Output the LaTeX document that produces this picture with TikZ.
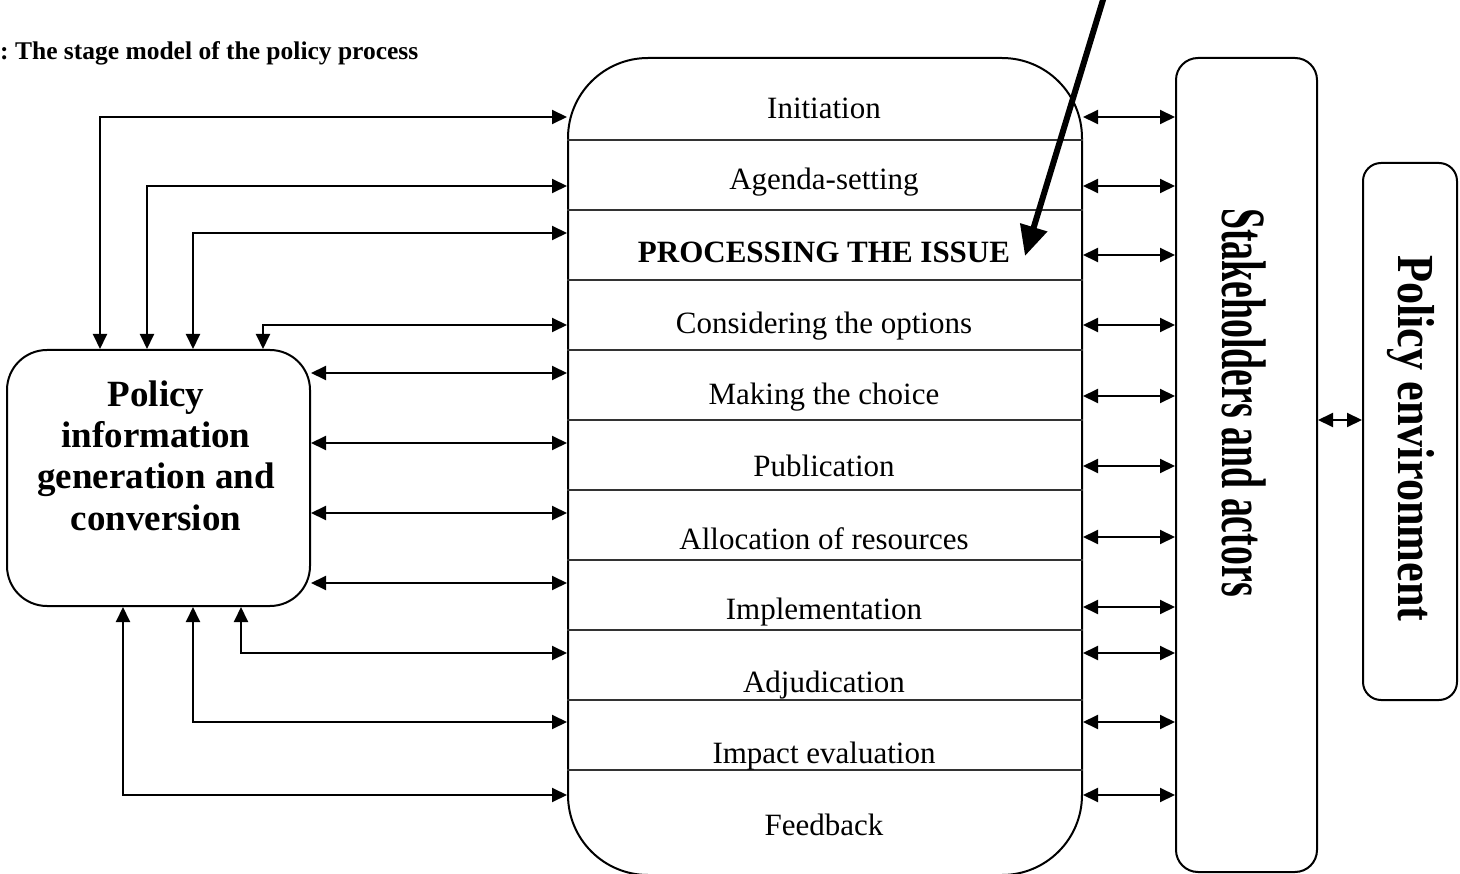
\documentclass[tikz,border=0pt]{standalone}
\usepackage{fontspec}
\usepackage{graphicx}
\setmainfont{Liberation Serif}
\usetikzlibrary{arrows.meta}
\frenchspacing
\begin{document}
\begin{tikzpicture}[x=1pt,y=-1pt,
  >={Triangle[length=15pt,width=14pt]},
  box/.style={draw, line width=2pt, inner sep=0pt},
  link/.style={line width=2pt, <->},
  divider/.style={line width=1.6pt, black!80},
  stage/.style={font=\fontsize{31}{37}\selectfont, anchor=base, inner sep=0pt},
  pointer/.style={line width=6pt, -{Triangle[length=30pt,width=27pt]}},
  sidelabel/.style={rotate=-90, anchor=base west, inner sep=0pt}
]
\useasboundingbox (0,0) rectangle (1460,874);

% caption
\node[anchor=base west, inner sep=0pt, font=\fontsize{25.5}{30}\selectfont\bfseries] (title) at (0,60) {: The stage model of the policy process};

% central column of stages
\node[box, rounded corners=80pt, minimum width=514pt, minimum height=817pt] (proc) at (825,466.5) {};
\foreach \y in {140,210,280,350,420,490,560,630,700,770}
  \draw[divider] (proc.west |- 0,\y) -- (proc.east |- 0,\y);

\node[stage] (s1) at (824,119) {Initiation};
\node[stage] (s2) at (824,190) {Agenda-setting};
\node[stage, font=\fontsize{31}{37}\selectfont\bfseries] (s3) at (824,263) {PROCESSING THE ISSUE};
\node[stage] (s4) at (824,334) {Considering the options};
\node[stage] (s5) at (824,405) {Making the choice};
\node[stage] (s6) at (824,477) {Publication};
\node[stage] (s7) at (824,549) {Allocation of resources};
\node[stage] (s8) at (824,619) {Implementation};
\node[stage] (s9) at (824,692) {Adjudication};
\node[stage] (s10) at (824,763) {Impact evaluation};
\node[stage] (s11) at (824,835) {Feedback};

% information box
\node[box, rounded corners=40pt, minimum width=303pt, minimum height=256pt] (info) at (158.5,478) {};
\node[align=center, inner sep=0pt, anchor=base, font=\fontsize{37}{41.3}\selectfont\bfseries] (infotext) at (156,530)
  {Policy\\information\\generation and\\conversion};

% stakeholders and environment
\node[box, rounded corners=22pt, minimum width=141pt, minimum height=814pt] (stake) at (1246.5,465) {};
\node[sidelabel, font=\fontsize{63}{70}\selectfont\bfseries] (staketext) at (1222,208)
  {\scalebox{0.6}[1]{Stakeholders and actors}};
\node[box, rounded corners=18pt, minimum width=94pt, minimum height=537pt] (env) at (1410,431.5) {};
\node[sidelabel, font=\fontsize{52}{60}\selectfont\bfseries] (envtext) at (1398,255)
  {\scalebox{0.85}[1]{Policy environment}};

% links between the information box and the stages
\draw[link] (info.north -| 100,0) |- (proc.west |- 0,117);
\draw[link] (info.north -| 147,0) |- (proc.west |- 0,186);
\draw[link] (info.north -| 193,0) |- (proc.west |- 0,233);
\draw[link] (info.north -| 263,0) |- (proc.west |- 0,325);
\foreach \y in {373,443,513,583}
  \draw[link] (info.east |- 0,\y) -- (proc.west |- 0,\y);
\draw[link] (info.south -| 241,0) |- (proc.west |- 0,653);
\draw[link] (info.south -| 193,0) |- (proc.west |- 0,722);
\draw[link] (info.south -| 123,0) |- (proc.west |- 0,795);

% links between the stages and the stakeholders
\foreach \y in {117,186,255,325,396,466,537,607,653,722,795}
  \draw[link] (proc.east |- 0,\y) -- (stake.west |- 0,\y);
\draw[link] (stake.east |- 0,420) -- (env.west |- 0,420);

% pointer onto the processing stage
\coordinate (ptrtail) at (1106,-10);
\coordinate (ptrtip) at (1025,256);
\draw[pointer] (ptrtail) -- (ptrtip);
\end{tikzpicture}
\end{document}
